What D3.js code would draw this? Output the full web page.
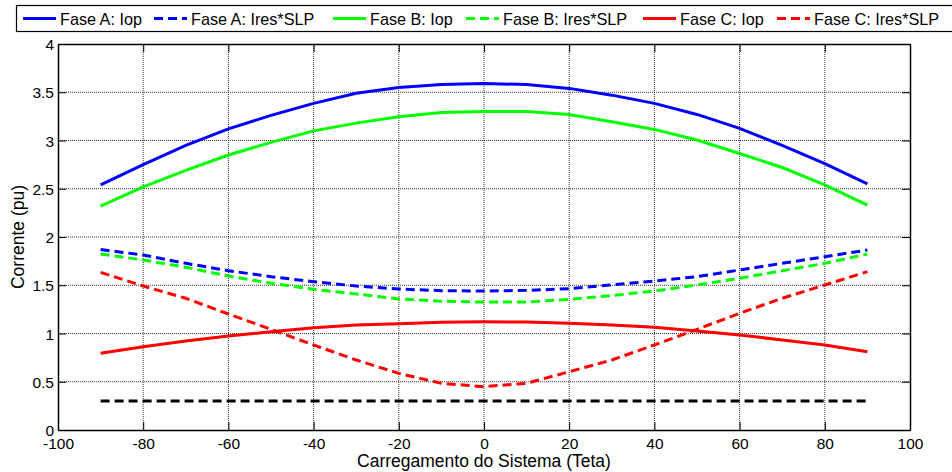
<!DOCTYPE html>
<html>
<head>
<meta charset="utf-8">
<script src="https://cdn.jsdelivr.net/npm/d3@7"></script>
<style>
  html, body { margin: 0; padding: 0; background: #fff; }
  svg { display: block; font-family: "Liberation Sans", Arial, sans-serif; }
</style>
</head>
<body>
<svg id="chart" width="952" height="472"></svg>
<script>
// System loading angle (Teta), degrees
const teta = [-90, -80, -70, -60, -50, -40, -30, -20, -10, 0, 10, 20, 30, 40, 50, 60, 70, 80, 90];

// Operating current per phase (pu)
const iopA = [2.54, 2.75, 2.95, 3.12, 3.26, 3.385, 3.49, 3.55, 3.58, 3.59, 3.58, 3.54, 3.47, 3.385, 3.27, 3.125, 2.95, 2.76, 2.55];
const iopB = [2.32, 2.52, 2.69, 2.85, 2.98, 3.10, 3.18, 3.245, 3.29, 3.30, 3.30, 3.27, 3.195, 3.115, 3.005, 2.865, 2.72, 2.54, 2.33];
const iopC = [0.795, 0.863, 0.922, 0.974, 1.019, 1.06, 1.088, 1.10, 1.116, 1.122, 1.119, 1.105, 1.088, 1.064, 1.026, 0.984, 0.933, 0.881, 0.81];

// Restraint current times slope per phase (pu)
const slpA = [1.87, 1.813, 1.727, 1.651, 1.589, 1.537, 1.492, 1.461, 1.444, 1.44, 1.447, 1.464, 1.503, 1.544, 1.589, 1.658, 1.727, 1.796, 1.865];
const slpB = [1.824, 1.762, 1.686, 1.596, 1.52, 1.458, 1.41, 1.358, 1.334, 1.326, 1.326, 1.354, 1.392, 1.44, 1.503, 1.572, 1.651, 1.727, 1.824];
const slpC = [1.634, 1.492, 1.365, 1.202, 1.043, 0.881, 0.725, 0.587, 0.484, 0.449, 0.484, 0.604, 0.725, 0.881, 1.043, 1.209, 1.365, 1.503, 1.641];

// Minimum pickup threshold (pu)
const pickup = [0.3, 0.3];
const pickupTeta = [-90, 90];

const xTicks = [-100, -80, -60, -40, -20, 0, 20, 40, 60, 80, 100];
const yTicks = [0, 0.5, 1, 1.5, 2, 2.5, 3, 3.5, 4];

const seriesNames = ["Fase A: Iop", "Fase A: Ires*SLP", "Fase B: Iop", "Fase B: Ires*SLP", "Fase C: Iop", "Fase C: Ires*SLP"];
const seriesValues = [iopA, slpA, iopB, slpB, iopC, slpC];
const seriesColors = ["#0000ff", "#0000ff", "#00ff00", "#00ff00", "#ff0000", "#ff0000"];
const seriesDashed = [false, true, false, true, false, true];

const svg = d3.select("#chart");
const plot = { left: 58, right: 910, top: 44, bottom: 430 };

const x = d3.scaleLinear().domain([-100, 100]).range([plot.left, plot.right]);
const y = d3.scaleLinear().domain([0, 4]).range([plot.bottom, plot.top]);

// Dotted grid
const grid = svg.append("g");
grid.selectAll("line.gx").data(xTicks.slice(1, -1)).join("line")
  .attr("x1", d => x(d)).attr("x2", d => x(d))
  .attr("y1", plot.top).attr("y2", plot.bottom)
  .attr("stroke", "#333").attr("stroke-width", 1).attr("stroke-dasharray", "1,1");
grid.selectAll("line.gy").data(yTicks.slice(1, -1)).join("line")
  .attr("x1", plot.left).attr("x2", plot.right)
  .attr("y1", d => y(d)).attr("y2", d => y(d))
  .attr("stroke", "#333").attr("stroke-width", 1).attr("stroke-dasharray", "1,1");

// Axes with inward ticks on all four sides
const tickLen = 8;
const fmt = d => String(d);
const axB = svg.append("g").attr("transform", `translate(0,${plot.bottom})`)
  .call(d3.axisBottom(x).tickValues(xTicks).tickSizeInner(-tickLen).tickSizeOuter(0).tickFormat(fmt));
const axT = svg.append("g").attr("transform", `translate(0,${plot.top})`)
  .call(d3.axisTop(x).tickValues(xTicks).tickSizeInner(-tickLen).tickSizeOuter(0).tickFormat(""));
const axL = svg.append("g").attr("transform", `translate(${plot.left},0)`)
  .call(d3.axisLeft(y).tickValues(yTicks).tickSizeInner(-tickLen).tickSizeOuter(0).tickFormat(fmt));
const axR = svg.append("g").attr("transform", `translate(${plot.right},0)`)
  .call(d3.axisRight(y).tickValues(yTicks).tickSizeInner(-tickLen).tickSizeOuter(0).tickFormat(""));

[axB, axT, axL, axR].forEach(a => {
  a.select(".domain").attr("stroke", "#000").attr("stroke-width", 1.5);
  a.selectAll(".tick line").attr("stroke", "#000");
  a.selectAll("text").attr("font-family", "Liberation Sans, Arial, sans-serif")
    .attr("font-size", 15.5).attr("fill", "#000");
});
axB.selectAll(".tick text").attr("y", 0).attr("dy", 0).attr("transform", "translate(0,19)");
axL.selectAll(".tick text").attr("x", -4).attr("dy", "0.36em");

// Curves
const line = d3.line().x((d, i) => x(teta[i])).y(d => y(d));
const curves = svg.append("g");
seriesValues.forEach((vals, k) => {
  curves.append("path").datum(vals)
    .attr("d", line)
    .attr("fill", "none")
    .attr("stroke", seriesColors[k])
    .attr("stroke-width", 3)
    .attr("stroke-dasharray", seriesDashed[k] ? "9,5" : null);
});
curves.append("path").datum(pickup)
  .attr("d", d3.line().x((d, i) => x(pickupTeta[i])).y(d => y(d)))
  .attr("fill", "none").attr("stroke", "#000").attr("stroke-width", 3)
  .attr("stroke-dasharray", "9,5");

// Axis titles
svg.append("text")
  .attr("x", x(0)).attr("y", 467)
  .attr("text-anchor", "middle").attr("font-size", 17.5)
  .text("Carregamento do Sistema (Teta)");
svg.append("text")
  .attr("transform", `translate(24,${(plot.top + plot.bottom) / 2}) rotate(-90)`)
  .attr("text-anchor", "middle").attr("font-size", 17.5)
  .text("Corrente (pu)");

// Legend
const legend = svg.append("g");
legend.append("rect")
  .attr("x", 16.5).attr("y", 5.5).attr("width", 950).attr("height", 26)
  .attr("fill", "#fff").attr("stroke", "#000").attr("stroke-width", 1.2);
const legendLineX = [23, 154, 333, 466, 643, 777];
seriesNames.forEach((name, k) => {
  const lx = legendLineX[k];
  legend.append("line")
    .attr("x1", lx).attr("x2", lx + 33).attr("y1", 18.5).attr("y2", 18.5)
    .attr("stroke", seriesColors[k]).attr("stroke-width", 3)
    .attr("stroke-dasharray", seriesDashed[k] ? "9,5" : null);
  legend.append("text")
    .attr("x", lx + 37).attr("y", 24.5)
    .attr("font-size", 16.2)
    .text(name);
});
</script>
</body>
</html>
